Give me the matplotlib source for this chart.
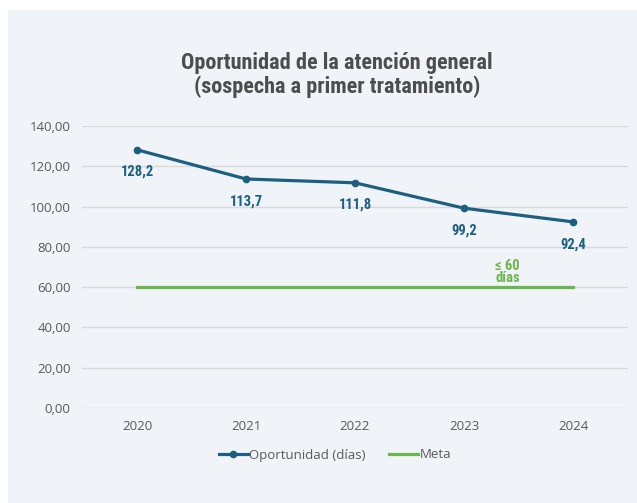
import matplotlib.pyplot as plt
from matplotlib.patches import Rectangle

# Datos
anios = ['2020', '2021', '2022', '2023', '2024']
oportunidad = [128.2, 113.7, 111.8, 99.2, 92.4]
meta = [60, 60, 60, 60, 60]
etiquetas = ['128,2', '113,7', '111,8', '99,2', '92,4']
y_ticks = [0, 20, 40, 60, 80, 100, 120, 140]

azul = '#1c5f80'
verde = '#6db54f'
gris = '#595959'
fondo = '#f0f4f9'
estrecha = ['DejaVu Sans Condensed', 'Liberation Sans Narrow', 'Roboto Condensed', 'Lato']

plt.rcParams['font.family'] = ['Open Sans', 'DejaVu Sans']

fig = plt.figure(figsize=(6.37, 5.03), dpi=100)
fig.patch.set_facecolor('white')
fig.patches.append(Rectangle((8 / 637, 0), 1, 1 - 10 / 503, transform=fig.transFigure,
                             facecolor=fondo, edgecolor='none', zorder=-1))

ax = fig.add_axes([82.5 / 637, 1 - 408 / 503, 545 / 637, 282 / 503])
ax.set_facecolor(fondo)
ax.patch.set_alpha(0)

x = list(range(len(anios)))
ax.plot(x, oportunidad, color=azul, lw=2.3, marker='o', ms=4.5, label='Oportunidad (días)', zorder=3)
ax.plot(x, meta, color=verde, lw=2.3, label='Meta', zorder=2)

for xi, v, t in zip(x, oportunidad, etiquetas):
    ax.annotate(t, (xi, v), xytext=(0, -16), textcoords='offset points', ha='center', va='center',
                color=azul, fontsize=10.5, fontweight='bold', family=estrecha)

ax.text(3.4, 67.5, '≤ 60\ndías', ha='center', va='center', color=verde, fontsize=10.5,
        fontweight='bold', linespacing=0.85, family=estrecha)

ax.set_xlim(-0.5, 4.5)
ax.set_ylim(0, 140)
ax.set_yticks(y_ticks)
ax.set_yticklabels([f'{v},00' for v in y_ticks])
ax.set_xticks(x)
ax.set_xticklabels(anios)
ax.tick_params(length=0, colors=gris, labelsize=9.5)
ax.tick_params(axis='y', pad=8.5)
ax.tick_params(axis='x', pad=9)
ax.grid(axis='y', color='#d9d9d9', lw=1)
ax.set_axisbelow(True)
for s in ax.spines.values():
    s.set_visible(False)

fig.text(337 / 637, 1 - 75 / 503, 'Oportunidad de la atención general\n(sospecha a primer tratamiento)',
         ha='center', va='center', fontsize=16, fontweight='bold', color='#4d4d4d',
         linespacing=1.1, family=estrecha)

leg = fig.legend(loc='center', bbox_to_anchor=(335 / 637, 1 - 455 / 503), ncol=2, frameon=False,
                 fontsize=9.5, handlelength=2.2, handletextpad=0.1, columnspacing=1.8)
for t in leg.get_texts():
    t.set_color(gris)

fig.savefig('out.png', dpi=100, facecolor=fig.get_facecolor())
